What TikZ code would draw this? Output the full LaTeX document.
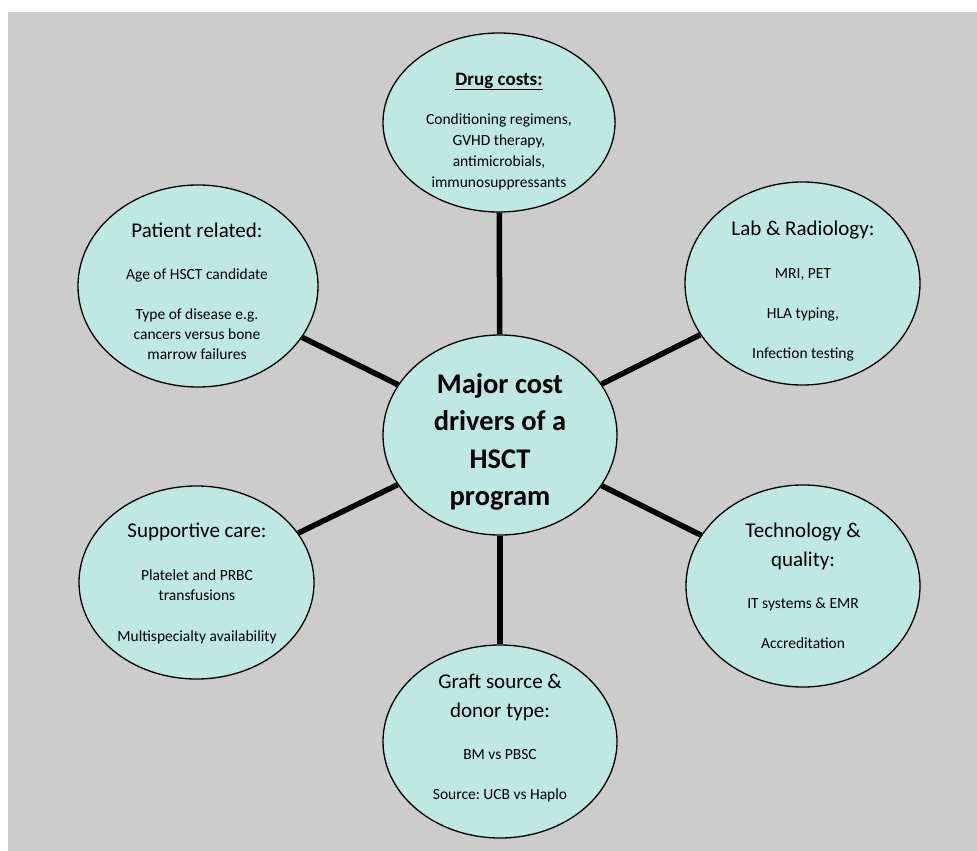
\documentclass[tikz,border=0pt]{standalone}
\usepackage{fontspec}
\setmainfont{Carlito}
\usetikzlibrary{shapes.geometric}
\definecolor{bggray}{RGB}{204,204,204}
\definecolor{cfill}{RGB}{191,231,228}
\frenchspacing
\begin{document}
\begin{tikzpicture}[x=1pt,y=-1pt,
  bubble/.style={ellipse, draw=black, line width=1.3pt, fill=cfill, inner sep=0pt},
  conn/.style={line width=5.5pt, draw=black},
  body/.style={anchor=base, inner sep=0pt, font=\fontsize{15.5}{19}\selectfont},
  head/.style={anchor=base, inner sep=0pt, font=\fontsize{21}{25}\selectfont},
  dhead/.style={anchor=base, inner sep=0pt, font=\fontsize{19}{23}\selectfont\bfseries},
  chead/.style={anchor=base, inner sep=0pt, font=\fontsize{28.5}{34}\selectfont\bfseries}]
\useasboundingbox (0,0) rectangle (977,851);
\fill[white] (0,0) rectangle (977,851);
\fill[bggray] (8,12) rectangle (977,851);

% ellipses
\node[bubble, minimum width=234pt, minimum height=200pt] (center) at (500,435) {};
\node[bubble, minimum width=232pt, minimum height=179pt] (drug) at (499,122.5) {};
\node[bubble, minimum width=240pt, minimum height=202pt] (patient) at (198,286) {};
\node[bubble, minimum width=235pt, minimum height=203pt] (lab) at (802.5,283.5) {};
\node[bubble, minimum width=235pt, minimum height=193pt] (support) at (196.5,582.5) {};
\node[bubble, minimum width=234pt, minimum height=202pt] (tech) at (803,586) {};
\node[bubble, minimum width=234pt, minimum height=193pt] (graft) at (500,741.5) {};

% connectors
\draw[conn] (center) -- (drug);
\draw[conn] (center) -- (patient);
\draw[conn] (center) -- (lab);
\draw[conn] (center) -- (support);
\draw[conn] (center) -- (tech);
\draw[conn] (center) -- (graft);

% centre text
\node[chead] (c1) at (500,393) {Major cost};
\node[chead] (c2) at (500,430) {drivers of a};
\node[chead] (c3) at (500,468) {HSCT};
\node[chead] (c4) at (500,505) {program};

% drug costs
\node[dhead] (d0) at (499,85) {\underline{Drug costs:}};
\node[body] (d1) at (499,124) {Conditioning regimens,};
\node[body] (d2) at (499,145) {GVHD therapy,};
\node[body] (d3) at (499,166) {antimicrobials,};
\node[body] (d4) at (499,187) {immunosuppressants};

% patient related
\node[head] (p0) at (197,237) {Patient related:};
\node[body] (p1) at (197,279) {Age of HSCT candidate};
\node[body] (p2) at (197,319) {Type of disease e.g.};
\node[body] (p3) at (197,339) {cancers versus bone};
\node[body] (p4) at (197,359) {marrow failures};

% lab
\node[head] (l0) at (803,235) {Lab \& Radiology:};
\node[body] (l1) at (803,278) {MRI, PET};
\node[body] (l2) at (803,318) {HLA typing,};
\node[body] (l3) at (803,358) {Infection testing};

% supportive care
\node[head] (s0) at (197,537) {Supportive care:};
\node[body] (s1) at (197,580) {Platelet and PRBC};
\node[body] (s2) at (197,600) {transfusions};
\node[body] (s3) at (197,641) {Multispecialty availability};

% technology
\node[head] (q0) at (803,537) {Technology \&};
\node[head] (q1) at (803,566) {quality:};
\node[body] (q2) at (803,608) {IT systems \& EMR};
\node[body] (q3) at (803,648) {Accreditation};

% graft
\node[head] (g0) at (500,688) {Graft source \&};
\node[head] (g1) at (500,717) {donor type:};
\node[body] (g2) at (500,759) {BM vs PBSC};
\node[body] (g3) at (500,799) {Source: UCB vs Haplo};
\end{tikzpicture}
\end{document}
